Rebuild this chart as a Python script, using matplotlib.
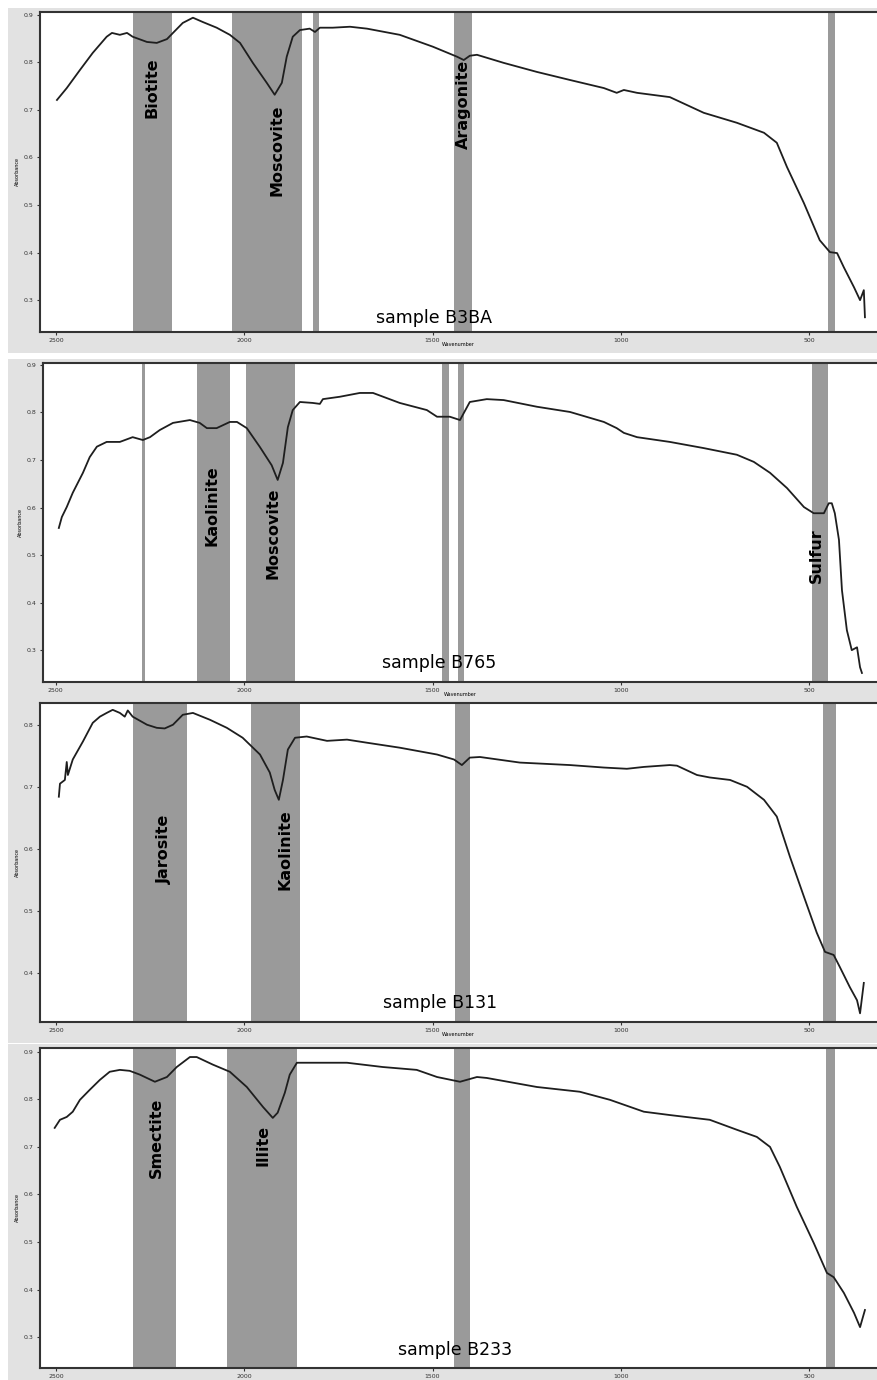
import matplotlib
matplotlib.use("Agg")
import matplotlib.pyplot as plt
from matplotlib.patches import Rectangle

# wavenumber (cm-1) / absorbance
b3ba_wn = [2497, 2471, 2436, 2402, 2365, 2351, 2330, 2311, 2296, 2258, 2232, 2205, 2189, 2163,
           2136, 2110, 2073, 2038, 2011, 1977, 1940, 1919, 1900, 1887, 1871, 1852, 1826, 1812,
           1799, 1765, 1719, 1674, 1587, 1499, 1435, 1417, 1401, 1382, 1311, 1223, 1135, 1045,
           1011, 992, 957, 870, 780, 692, 620, 586, 559, 514, 472, 445, 426, 408, 381, 365, 355, 352]
b3ba_abs = [0.721, 0.746, 0.784, 0.820, 0.854, 0.862, 0.858, 0.862, 0.854, 0.843, 0.841, 0.849,
            0.862, 0.883, 0.894, 0.885, 0.873, 0.858, 0.841, 0.799, 0.757, 0.732, 0.757, 0.812,
            0.854, 0.868, 0.871, 0.864, 0.873, 0.873, 0.875, 0.871, 0.858, 0.833, 0.812, 0.805,
            0.814, 0.816, 0.799, 0.780, 0.763, 0.746, 0.736, 0.742, 0.736, 0.727, 0.694, 0.673,
            0.652, 0.631, 0.580, 0.504, 0.426, 0.401, 0.399, 0.369, 0.327, 0.300, 0.321, 0.264]

b765_wn = [2492, 2484, 2471, 2455, 2428, 2410, 2391, 2365, 2330, 2296, 2269, 2250, 2224, 2189,
           2144, 2118, 2099, 2073, 2038, 2019, 1993, 1958, 1927, 1911, 1897, 1884, 1871, 1852,
           1818, 1799, 1791, 1746, 1693, 1658, 1587, 1515, 1488, 1454, 1427, 1401, 1356, 1311,
           1223, 1135, 1045, 1011, 992, 957, 870, 780, 692, 647, 604, 559, 514, 488, 461, 448,
           440, 432, 421, 413, 400, 387, 373, 365, 360]
b765_abs = [0.557, 0.580, 0.601, 0.631, 0.673, 0.706, 0.728, 0.738, 0.738, 0.748, 0.742, 0.748,
            0.763, 0.778, 0.784, 0.778, 0.767, 0.767, 0.780, 0.780, 0.767, 0.727, 0.689, 0.658,
            0.694, 0.769, 0.805, 0.822, 0.820, 0.818, 0.828, 0.833, 0.841, 0.841, 0.820, 0.805,
            0.791, 0.791, 0.784, 0.822, 0.828, 0.826, 0.812, 0.801, 0.780, 0.767, 0.757, 0.748,
            0.738, 0.725, 0.711, 0.696, 0.673, 0.641, 0.601, 0.588, 0.588, 0.609, 0.609, 0.588,
            0.532, 0.426, 0.342, 0.300, 0.306, 0.264, 0.252]

b131_wn = [2492, 2489, 2476, 2471, 2468, 2455, 2428, 2402, 2383, 2365, 2349, 2330, 2317, 2309,
           2296, 2258, 2232, 2211, 2189, 2163, 2136, 2091, 2046, 2004, 1958, 1932, 1919, 1908,
           1897, 1884, 1865, 1834, 1780, 1727, 1674, 1587, 1488, 1443, 1422, 1401, 1374, 1268,
           1135, 1045, 984, 939, 870, 851, 798, 764, 710, 665, 620, 586, 551, 514, 480, 458,
           435, 419, 392, 373, 365, 355]
b131_abs = [0.684, 0.705, 0.711, 0.740, 0.719, 0.744, 0.773, 0.803, 0.813, 0.819, 0.824, 0.819,
            0.813, 0.823, 0.813, 0.800, 0.795, 0.794, 0.800, 0.816, 0.819, 0.808, 0.795, 0.779,
            0.752, 0.723, 0.695, 0.679, 0.711, 0.760, 0.779, 0.781, 0.774, 0.776, 0.771, 0.763,
            0.752, 0.744, 0.735, 0.747, 0.748, 0.739, 0.735, 0.731, 0.729, 0.732, 0.735, 0.734,
            0.719, 0.715, 0.711, 0.700, 0.679, 0.652, 0.587, 0.523, 0.465, 0.434, 0.429, 0.410,
            0.377, 0.356, 0.335, 0.384]

b233_wn = [2503, 2489, 2471, 2455, 2436, 2410, 2383, 2357, 2330, 2304, 2277, 2237, 2205, 2179,
           2144, 2126, 2083, 2038, 1993, 1950, 1924, 1911, 1892, 1879, 1860, 1807, 1727, 1632,
           1542, 1488, 1427, 1382, 1356, 1223, 1109, 1029, 939, 870, 764, 692, 639, 604, 578,
           533, 488, 453, 435, 408, 381, 365, 352]
b233_abs = [0.740, 0.757, 0.763, 0.774, 0.799, 0.820, 0.841, 0.858, 0.862, 0.860, 0.852, 0.837,
            0.847, 0.868, 0.889, 0.889, 0.873, 0.858, 0.826, 0.784, 0.761, 0.772, 0.814, 0.852,
            0.877, 0.877, 0.877, 0.868, 0.862, 0.847, 0.837, 0.847, 0.845, 0.826, 0.816, 0.799,
            0.774, 0.767, 0.757, 0.736, 0.721, 0.700, 0.658, 0.574, 0.498, 0.435, 0.426, 0.393,
            0.351, 0.321, 0.357]

# shaded absorption bands (from, to) in cm-1
b3ba_bands = [(2296, 2192), (2033, 1847), (1818, 1802), (1443, 1395), (450, 431)]
b765_bands = [(2272, 2264), (2126, 2038), (1995, 1865), (1475, 1456), (1433, 1417), (493, 450)]
b131_bands = [(2296, 2152), (1982, 1852), (1441, 1401), (463, 429)]
b233_bands = [(2296, 2181), (2046, 1860), (1443, 1401), (455, 431)]

# mineral labels: name, wavenumber, absorbance
b3ba_minerals = [("Biotite", 2245, 0.746), ("Moscovite", 1913, 0.616), ("Aragonite", 1417, 0.711)]
b765_minerals = [("Kaolinite", 2086, 0.605), ("Moscovite", 1924, 0.546), ("Sulfur", 480, 0.498)]
b131_minerals = [("Jarosite", 2211, 0.600), ("Kaolinite", 1892, 0.598)]
b233_minerals = [("Smectite", 2232, 0.719), ("Illite", 1950, 0.704)]

sample_names = ["sample B3BA", "sample B765", "sample B131", "sample B233"]
sample_pos = [(1496, 0.262), (1483, 0.273), (1480, 0.352), (1441, 0.273)]

x_ticks = [2500, 2000, 1500, 1000, 500]
y_ticks_a = [0.3, 0.4, 0.5, 0.6, 0.7, 0.8, 0.9]
y_ticks_c = [0.4, 0.5, 0.6, 0.7, 0.8]

W, H = 877, 1380
fig = plt.figure(figsize=(W / 100, H / 100), dpi=100)


def px(l, top, bottom):
    return [l / W, 1 - bottom / H, 1 - l / W, (bottom - top) / H]


panels = [
    (px(40, 12, 332), (2542, 320), (0.233, 0.906), y_ticks_a, b3ba_wn, b3ba_abs, b3ba_bands, b3ba_minerals),
    (px(43, 363, 682), (2534, 320), (0.233, 0.904), y_ticks_a, b765_wn, b765_abs, b765_bands, b765_minerals),
    (px(40, 703, 1022), (2542, 320), (0.321, 0.835), y_ticks_c, b131_wn, b131_abs, b131_bands, b131_minerals),
    (px(40, 1048, 1368), (2542, 320), (0.235, 0.908), y_ticks_a, b233_wn, b233_abs, b233_bands, b233_minerals),
]

for i, (rect, xl, yl, yt, wn, ab, bands, minerals) in enumerate(panels):
    # light grey frame area behind each plot
    l, b, w, h = rect
    fig.patches.append(Rectangle((8 / W, b - 21 / H), 1, h + 25 / H, transform=fig.transFigure,
                                 facecolor="#e2e2e2", edgecolor="none", zorder=-1))
    ax = fig.add_axes(rect)
    ax.set_facecolor("white")
    for lo, hi in bands:
        ax.axvspan(lo, hi, color="#9a9a9a", lw=0, zorder=1)
    ax.plot(wn, ab, color="#1e1e1e", lw=1.3, zorder=3)
    for name, xw, ya in minerals:
        ax.text(xw, ya, name, rotation=90, ha="center", va="center", fontsize=11.5,
                fontweight="bold", color="black", zorder=4)
    sx, sy = sample_pos[i]
    ax.text(sx, sy, sample_names[i], ha="center", va="center", fontsize=12.5, color="black", zorder=4)
    ax.set_xlim(*xl)
    ax.set_ylim(*yl)
    ax.set_xticks(x_ticks)
    ax.set_xticklabels([str(t) for t in x_ticks])
    ax.set_yticks(yt)
    ax.set_yticklabels([f"{t:.1f}" for t in yt])
    ax.tick_params(direction="out", length=2.5, width=0.8, labelsize=4.5, colors="#333333", pad=2)
    for s in ax.spines.values():
        s.set_color("#333333")
        s.set_linewidth(1.5)
    ax.spines["right"].set_visible(False)
    ax.set_ylabel("Absorbance", fontsize=3.5, labelpad=3)
    if i < 3:
        ax.set_xlabel("Wavenumber", fontsize=3.5, labelpad=-1)

fig.savefig("out.png", dpi=100)
